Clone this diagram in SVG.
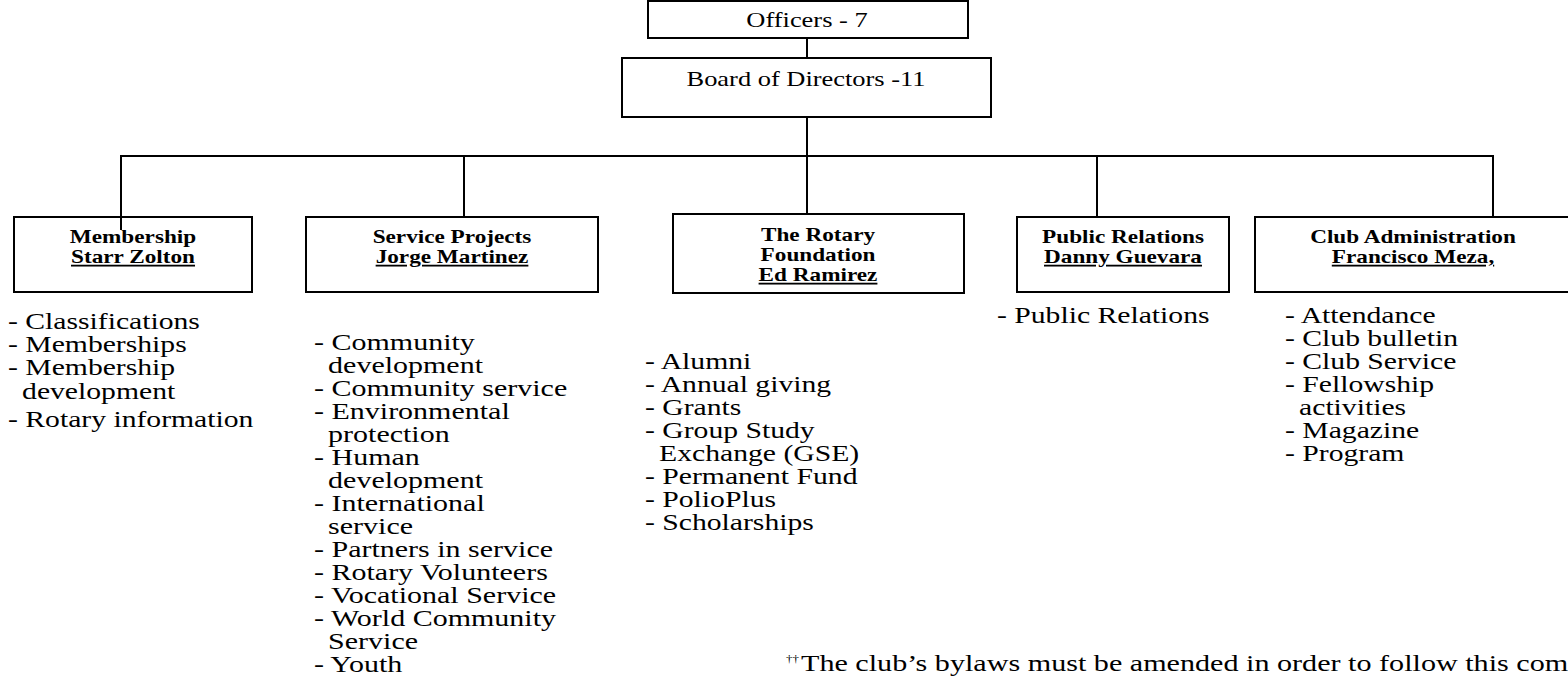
<svg xmlns="http://www.w3.org/2000/svg" width="1568" height="678" viewBox="0 0 1568 678">
<style>
  .box { fill: none; stroke: #000; stroke-width: 2; }
  .conn line { stroke: #000; stroke-width: 2; }
  text { font-family: "Liberation Serif", "Times New Roman", serif; fill: #000; }
  .ttl { font-size: 20.5px; text-anchor: middle; }
  .lbl { font-size: 18px; font-weight: bold; text-anchor: middle; }
  .lst { font-size: 23px; }
  .u { text-decoration: underline; }
  .fn { font-size: 23px; }
  .sup { font-size: 10px; }
</style>
<rect width="1568" height="678" fill="#fff"/>

<g id="officers">
  <rect class="box" x="648" y="1" width="320" height="37"/>
  <text class="ttl" transform="translate(807,0) scale(1.29,1)" x="0" y="27">Officers - 7</text>
</g>

<g id="board">
  <rect class="box" x="622" y="58" width="369" height="59"/>
  <text class="ttl" transform="translate(806,0) scale(1.29,1)" x="0" y="86">Board of Directors -11</text>
</g>

<g id="membership">
  <rect class="box" x="14" y="217" width="238" height="75"/>
  <text class="lbl" transform="translate(133,0) scale(1.29,1)"><tspan x="0" y="243">Membership</tspan><tspan class="u" x="0" y="263">Starr Zolton</tspan></text>
  <text class="lst" transform="translate(8,0) scale(1.29,1)">
    <tspan x="0" y="329">- Classifications</tspan>
    <tspan x="0" y="352">- Memberships</tspan>
    <tspan x="0" y="375">- Membership</tspan>
    <tspan x="10.9" y="399">development</tspan>
    <tspan x="0" y="427">- Rotary information</tspan>
  </text>
</g>

<g id="service">
  <rect class="box" x="306" y="217" width="292" height="75"/>
  <text class="lbl" transform="translate(452,0) scale(1.29,1)"><tspan x="0" y="243">Service Projects</tspan><tspan class="u" x="0" y="263">Jorge Martinez</tspan></text>
  <text class="lst" transform="translate(314,0) scale(1.305,1)">
    <tspan x="0" y="350">- Community</tspan>
    <tspan x="10.8" y="373">development</tspan>
    <tspan x="0" y="396">- Community service</tspan>
    <tspan x="0" y="419">- Environmental</tspan>
    <tspan x="10.8" y="442">protection</tspan>
    <tspan x="0" y="465">- Human</tspan>
    <tspan x="10.8" y="488">development</tspan>
    <tspan x="0" y="511">- International</tspan>
    <tspan x="10.8" y="534">service</tspan>
    <tspan x="0" y="557">- Partners in service</tspan>
    <tspan x="0" y="580">- Rotary Volunteers</tspan>
    <tspan x="0" y="603">- Vocational Service</tspan>
    <tspan x="0" y="626">- World Community</tspan>
    <tspan x="10.8" y="649">Service</tspan>
    <tspan x="0" y="672">- Youth</tspan>
  </text>
</g>

<g id="rotary">
  <rect class="box" x="673" y="214" width="291" height="79"/>
  <text class="lbl" transform="translate(818,0) scale(1.29,1)"><tspan x="0" y="241">The Rotary</tspan><tspan x="0" y="261">Foundation</tspan><tspan class="u" x="0" y="281">Ed Ramirez</tspan></text>
  <text class="lst" transform="translate(645,0) scale(1.29,1)">
    <tspan x="0" y="369">- Alumni</tspan>
    <tspan x="0" y="392">- Annual giving</tspan>
    <tspan x="0" y="415">- Grants</tspan>
    <tspan x="0" y="438">- Group Study</tspan>
    <tspan x="10.9" y="461">Exchange (GSE)</tspan>
    <tspan x="0" y="484">- Permanent Fund</tspan>
    <tspan x="0" y="507">- PolioPlus</tspan>
    <tspan x="0" y="530">- Scholarships</tspan>
  </text>
</g>

<g id="public">
  <rect class="box" x="1017" y="217" width="212" height="75"/>
  <text class="lbl" transform="translate(1123,0) scale(1.29,1)"><tspan x="0" y="243">Public Relations</tspan><tspan class="u" x="0" y="263">Danny Guevara</tspan></text>
  <text class="lst" transform="translate(997,0) scale(1.29,1)" x="0" y="323">- Public Relations</text>
</g>

<g id="club">
  <rect class="box" x="1255" y="217" width="320" height="75"/>
  <text class="lbl" transform="translate(1413,0) scale(1.29,1)"><tspan x="0" y="243">Club Administration</tspan><tspan class="u" x="0" y="263">Francisco Meza,</tspan></text>
  <text class="lst" transform="translate(1285,0) scale(1.29,1)">
    <tspan x="0" y="323">- Attendance</tspan>
    <tspan x="0" y="346">- Club bulletin</tspan>
    <tspan x="0" y="369">- Club Service</tspan>
    <tspan x="0" y="392">- Fellowship</tspan>
    <tspan x="10.9" y="415">activities</tspan>
    <tspan x="0" y="438">- Magazine</tspan>
    <tspan x="0" y="461">- Program</tspan>
  </text>
</g>

<g id="footnote">
  <text class="sup" transform="translate(786,0) scale(1.29,1)" x="0" y="662">††</text>
  <text class="fn" transform="translate(801,0) scale(1.31,1)" x="0" y="671">The club’s bylaws must be amended in order to follow this com</text>
</g>

<g id="connectors" class="conn">
  <line x1="807" y1="38" x2="807" y2="58"/>
  <line x1="807" y1="117" x2="807" y2="214"/>
  <line x1="121" y1="156" x2="1494" y2="156"/>
  <line x1="121" y1="155" x2="121" y2="230"/>
  <line x1="464" y1="155" x2="464" y2="217"/>
  <line x1="1097" y1="155" x2="1097" y2="217"/>
  <line x1="1493" y1="155" x2="1493" y2="217"/>
</g>
</svg>
